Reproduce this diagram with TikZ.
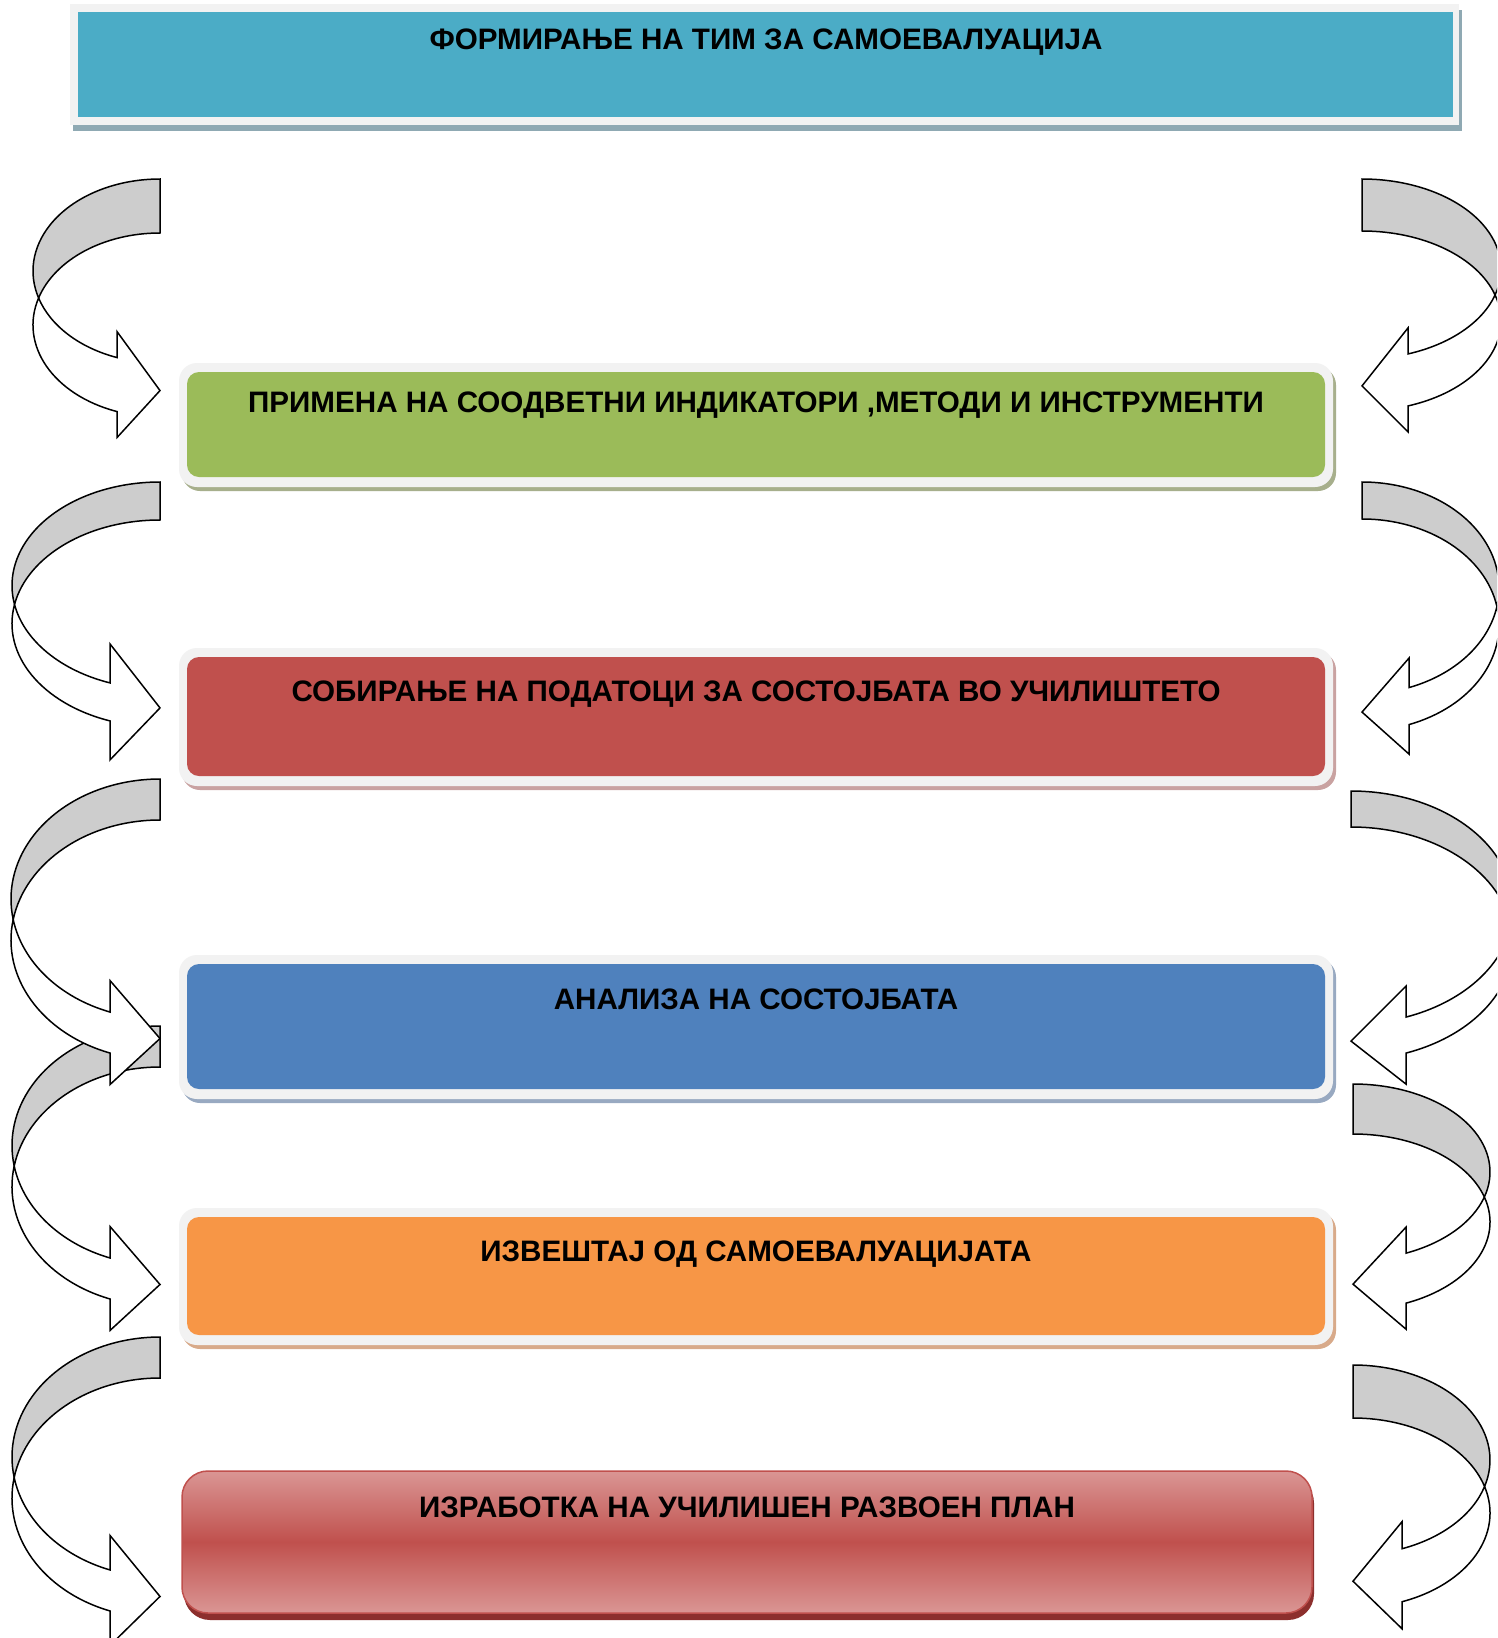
\documentclass[tikz,border=0pt]{standalone}
\usepackage{fontspec}
\setmainfont{Liberation Sans}
\usetikzlibrary{fit}
\definecolor{topblue}{HTML}{4BACC6}
\definecolor{grn}{HTML}{9BBB59}
\definecolor{rd}{HTML}{C0504D}
\definecolor{blu}{HTML}{4F81BD}
\definecolor{org}{HTML}{F79646}
\definecolor{frm}{HTML}{F2F2F2}
\definecolor{bandgray}{HTML}{CDCDCD}
\definecolor{shtop}{HTML}{8FA9B3}
\definecolor{shgrn}{HTML}{A7AF8C}
\definecolor{shred}{HTML}{C9A2A1}
\definecolor{shblu}{HTML}{98A9C1}
\definecolor{shorg}{HTML}{D8AA8A}
\definecolor{ltred}{HTML}{DA9694}
\definecolor{dkred}{HTML}{8C2F2D}
\tikzset{
  band/.style={draw=black, fill=bandgray, line width=1.5pt, line join=miter},
  front/.style={draw=black, fill=white, line width=1.5pt, line join=miter},
  cbox/.style={inner sep=0pt, rounded corners=12pt},
  lbl/.style={font=\bfseries\fontsize{29.6}{34}\selectfont, inner sep=0pt, anchor=base}
}
% curved arrow: #1 r, #2 top, #3 rx, #4 ry, #5 thickness, #6 head length, #7 head half width, #8 direction
\newcommand\carrow[8]{%
\begin{scope}[shift={(#1,#2)}, xscale=#8]
\pgfmathsetmacro\arwA{asin(#5/(2*#4))}
\pgfmathsetmacro\arwB{acos(-#6/#3)}
\pgfmathsetmacro\arwY{#4+#4*sin(\arwB)}
\pgfmathsetmacro\arwM{\arwY+#5/2}
\draw[band] (0,0) arc[start angle=270, end angle=180-\arwA, x radius=#3, y radius=#4]
  arc[start angle=180+\arwA, end angle=270, x radius=#3, y radius=#4] -- cycle;
\draw[front] ({-#3*cos(\arwA)},{#4+#4*sin(\arwA)})
  arc[start angle=180-\arwA, end angle=\arwB, x radius=#3, y radius=#4]
  -- (-#6,\arwM-#7) -- (0,\arwM+6) -- (-#6,\arwM+#7) -- (-#6,\arwY+#5)
  arc[start angle=\arwB, end angle=180+\arwA, x radius=#3, y radius=#4] -- cycle;
\end{scope}}
% framed box: #1 name, #2 fill, #3 shadow, #4 inner top, #5 inner bottom, #6 text, #7 baseline
\newcommand\framedbox[7]{%
\fill[#3, rounded corners=18pt] (182,#4-5) rectangle (1336,#5+14);
\fill[frm, rounded corners=18pt] (179,#4-9) rectangle (1333,#5+10);
\coordinate (#1nw) at (187,#4);
\coordinate (#1se) at (1325,#5);
\node[cbox, fill=#2, fit=(#1nw)(#1se)] (#1) {};
\node[lbl] (#1t) at (756,#7) {#6};
}
\begin{document}
\begin{tikzpicture}[x=1pt, y=-1pt]
\useasboundingbox (0,0) rectangle (1497,1638);
\clip (0,0) rectangle (1497,1638);
\fill[white] (0,0) rectangle (1497,1638);
% top box
\fill[shtop] (73,10) rectangle (1462,131);
\fill[frm] (70,4) rectangle (1459,125);
\coordinate (b0nw) at (78,12);
\coordinate (b0se) at (1453,117);
\node[inner sep=0pt, fill=topblue, fit=(b0nw)(b0se)] (b0) {};
\node[lbl] (b0t) at (766,49) {ФОРМИРАЊЕ НА ТИМ ЗА САМОЕВАЛУАЦИЈА};
% step boxes
\framedbox{b1}{grn}{shgrn}{372}{477}{ПРИМЕНА НА СООДВЕТНИ ИНДИКАТОРИ ,МЕТОДИ И ИНСТРУМЕНТИ}{412}
\framedbox{b2}{rd}{shred}{657}{776}{СОБИРАЊЕ НА ПОДАТОЦИ ЗА СОСТОЈБАТА ВО УЧИЛИШТЕТО}{701}
\framedbox{b3}{blu}{shblu}{964}{1089}{АНАЛИЗА НА СОСТОЈБАТА}{1009}
\framedbox{b4}{org}{shorg}{1217}{1335}{ИЗВЕШТАЈ ОД САМОЕВАЛУАЦИЈАТА}{1261}
% last box
\fill[dkred, rounded corners=26pt] (184,1477) rectangle (1314,1620);
\coordinate (b5nw) at (182,1471);
\coordinate (b5se) at (1312,1613);
\node[inner sep=0pt, rounded corners=26pt, draw=rd, line width=1.5pt,
  top color=ltred, bottom color=ltred, middle color=rd, fit=(b5nw)(b5se)] (b5) {};
\node[lbl] (b5t) at (747,1517) {ИЗРАБОТКА НА УЧИЛИШЕН РАЗВОЕН ПЛАН};
% left arrows
\carrow{160}{179}{127}{92}{54}{43}{53}{1}
\carrow{160}{482}{148}{103.5}{38}{50}{58}{1}
\carrow{160}{1026}{148}{119.5}{41}{50}{52}{1}
\carrow{160}{779}{149}{120}{41}{50}{52}{1}
\carrow{160}{1337}{148}{120}{41}{50}{55}{1}
% right arrows
\carrow{1362}{179}{139}{90}{52}{46}{52}{-1}
\carrow{1362}{482}{137}{106}{37}{47}{48}{-1}
\carrow{1351}{791}{162}{116.5}{36}{55}{49}{-1}
\carrow{1353}{1084}{137}{88}{50}{53}{51}{-1}
\carrow{1353}{1365}{137}{95}{53}{49}{53.5}{-1}
\end{tikzpicture}
\end{document}
